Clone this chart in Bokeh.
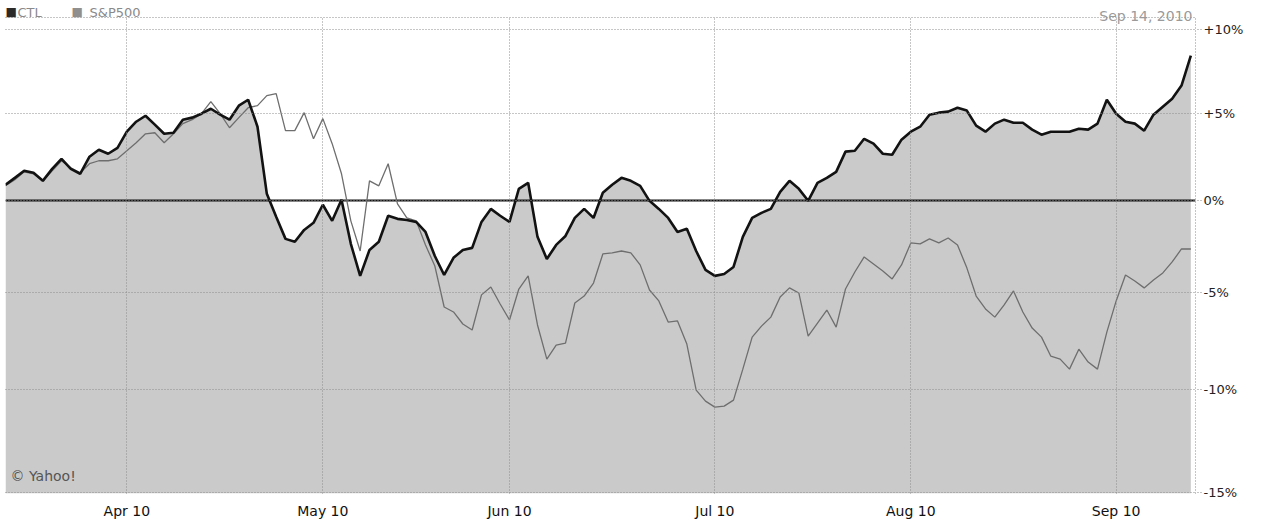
from bokeh.plotting import figure
from bokeh.models import Range1d, FixedTicker, Label
from bokeh.embed import file_html
from bokeh.resources import INLINE

# ---- data (percent change since Mar 15, 2010; one value per trading day) ----
ctl_pct = [0.90, 1.29, 1.69, 1.58, 1.12, 1.80, 2.37, 1.80, 1.52, 2.49,
           2.89, 2.66, 3.00, 3.93, 4.51, 4.86, 4.34, 3.81, 3.87, 4.63,
           4.75, 4.98, 5.27, 4.92, 4.63, 5.45, 5.80, 4.22, 0.39, -0.89,
           -2.10, -2.26, -1.61, -1.22, -0.22, -1.11, 0.06, -2.37, -4.10, -2.70,
           -2.26, -0.83, -1.00, -1.06, -1.17, -1.72, -3.03, -4.05, -3.13, -2.70,
           -2.59, -1.17, -0.45, -0.83, -1.17, 0.67, 1.01, -1.99, -3.19, -2.43,
           -1.94, -0.95, -0.45, -0.95, 0.45, 0.90, 1.29, 1.12, 0.84, 0.00,
           -0.45, -0.95, -1.72, -1.55, -2.76, -3.78, -4.10, -4.00, -3.62, -1.99,
           -0.95, -0.67, -0.45, 0.50, 1.12, 0.67, 0.00, 1.01, 1.29, 1.63,
           2.78, 2.83, 3.52, 3.24, 2.66, 2.60, 3.47, 3.93, 4.22, 4.92,
           5.04, 5.10, 5.33, 5.16, 4.28, 3.93, 4.40, 4.63, 4.45, 4.45,
           4.05, 3.76, 3.93, 3.93, 3.93, 4.10, 4.05, 4.40, 5.80, 4.98,
           4.51, 4.40, 3.99, 4.92, 5.39, 5.86, 6.64, 8.44]

spx_pct = [0.84, 1.18, 1.63, 1.52, 1.12, 1.69, 2.26, 1.86, 1.58, 2.09,
           2.26, 2.26, 2.37, 2.83, 3.29, 3.81, 3.87, 3.29, 3.81, 4.40,
           4.63, 4.98, 5.69, 4.98, 4.16, 4.75, 5.33, 5.45, 6.04, 6.16,
           3.99, 3.99, 5.04, 3.52, 4.69, 3.24, 1.52, -1.11, -2.76, 1.12,
           0.84, 2.09, -0.17, -0.95, -1.11, -2.43, -3.57, -5.75, -6.01, -6.64,
           -6.95, -5.11, -4.69, -5.59, -6.43, -4.80, -4.10, -6.69, -8.45, -7.73,
           -7.63, -5.54, -5.17, -4.48, -2.92, -2.86, -2.76, -2.86, -3.51, -4.85,
           -5.43, -6.54, -6.48, -7.68, -10.02, -10.57, -10.87, -10.82, -10.52, -8.96,
           -7.32, -6.75, -6.28, -5.22, -4.74, -5.01, -7.27, -6.59, -5.91, -6.80,
           -4.80, -3.89, -3.08, -3.46, -3.84, -4.26, -3.51, -2.32, -2.37, -2.10,
           -2.32, -2.05, -2.43, -3.67, -5.17, -5.85, -6.28, -5.64, -4.90, -6.01,
           -6.85, -7.32, -8.30, -8.45, -8.96, -7.94, -8.60, -8.96, -7.06, -5.43,
           -4.05, -4.37, -4.74, -4.32, -3.94, -3.35, -2.65, -2.65]

month_start_idx = [13, 34, 54, 76, 97, 119]          # trading-day index of 1st session
month_labels = ["Apr 10", "May 10", "Jun 10", "Jul 10", "Aug 10", "Sep 10"]
pct_ticks = [10, 5, 0, -5, -10, -15]
pct_tick_labels = ["+10%", "+5%", "0%", "-5%", "-10%", "-15%"]
baseline_pct = 0
series_names = ["CTL", "S&P500"]
date_text = "Sep 14, 2010"
credit_text = "\u00a9 Yahoo!"

# ---- derived ----
idx = list(range(len(ctl_pct)))
ctl_y = [1 + v / 100 for v in ctl_pct]
spx_y = [1 + v / 100 for v in spx_pct]
y_lo = 1 - 15.06 / 100          # bottom of the chart area
y_box = 1 + 10.76 / 100         # top edge of the chart box
y_top = 1 + 11.82 / 100         # top of the canvas (header strip lives above the box)
x_lo, x_hi = 0, len(idx) - 0.5

FONT = "DejaVu Sans"

p = figure(width=1276, height=521, output_backend="svg", toolbar_location=None,
           x_range=Range1d(x_lo, x_hi), y_range=Range1d(y_lo, y_top),
           y_axis_type="log", y_axis_location="right",
           min_border_left=5, min_border_right=81, min_border_top=0,
           min_border_bottom=0)

p.background_fill_color = "white"
p.border_fill_color = "white"
p.outline_line_color = None

# area under CTL to the bottom of the chart
p.varea(x=idx, y1=ctl_y, y2=y_lo, fill_color="#cacaca")
# zero baseline
p.hspan(y=[1 + baseline_pct / 100], line_color="#111111", line_width=2)
# S&P 500 and CTL lines
p.line(idx, spx_y, line_color="#6e6e6e", line_width=1.3)
p.line(idx, ctl_y, line_color="#121212", line_width=2.6)

# ticks / grid
tick_vals = [1 + v / 100 for v in pct_ticks]
p.yaxis.ticker = FixedTicker(ticks=tick_vals)
p.ygrid.ticker = FixedTicker(ticks=tick_vals + [y_box])
p.yaxis.major_label_overrides = dict(zip(tick_vals, pct_tick_labels))
p.yaxis.bounds = (y_lo, y_box)
p.xaxis.ticker = FixedTicker(ticks=month_start_idx)
p.xgrid.ticker = FixedTicker(ticks=[x_lo] + month_start_idx)
p.xaxis.major_label_overrides = dict(zip(month_start_idx, month_labels))

for g in (p.xgrid, p.ygrid):
    g.grid_line_color = "#8c8c8c"
    g.grid_line_dash = "1 2"
    g.grid_line_width = 1
    g.level = "annotation"
try:
    p.xgrid.cross_bounds = (y_lo, y_box)
except Exception:
    pass

p.yaxis.axis_line_color = "#8a8a8a"
p.yaxis.axis_line_dash = "1 2"
p.yaxis.major_tick_out = 6
p.yaxis.major_tick_in = 0
p.yaxis.major_tick_line_color = "#8a8a8a"
p.yaxis.major_tick_line_dash = "1 2"
p.yaxis.minor_tick_line_color = None
p.yaxis.major_label_standoff = 2
p.yaxis.major_label_text_font = FONT
p.yaxis.major_label_text_font_size = "13px"
p.yaxis.major_label_text_color = "#222222"

p.xaxis.axis_line_color = None
p.xaxis.major_tick_line_color = None
p.xaxis.minor_tick_line_color = None
p.xaxis.major_label_standoff = 3
p.xaxis.major_label_text_font = FONT
p.xaxis.major_label_text_font_size = "14px"
p.xaxis.major_label_text_color = "#111111"

# legend-like header (squares + names), date and credit
def add_label(text, x, y, x_off, y_off, color, align="left", baseline="alphabetic", size="13px"):
    p.add_layout(Label(x=x, y=y, x_units="data", y_units="data", x_offset=x_off,
                       y_offset=y_off, text=text, text_color=color, text_align=align,
                       text_baseline=baseline, text_font=FONT, text_font_size=size))

add_label("\u25a0", x_lo, y_top, 0, -11, "#2a2a2a", size="12px")
add_label(series_names[0], x_lo, y_top, 12, -12, "#8a8a8a")
add_label("\u25a0", x_lo, y_top, 66, -11, "#8f8f8f", size="12px")
add_label(series_names[1], x_lo, y_top, 84, -12, "#8a8a8a")
add_label(date_text, x_hi, y_top, -3, -15, "#9a9a9a", align="right", size="14px")
add_label(credit_text, x_lo, y_lo, 5, 18, "#555555", size="14px")

open("out.html", "w").write(file_html(p, INLINE))
